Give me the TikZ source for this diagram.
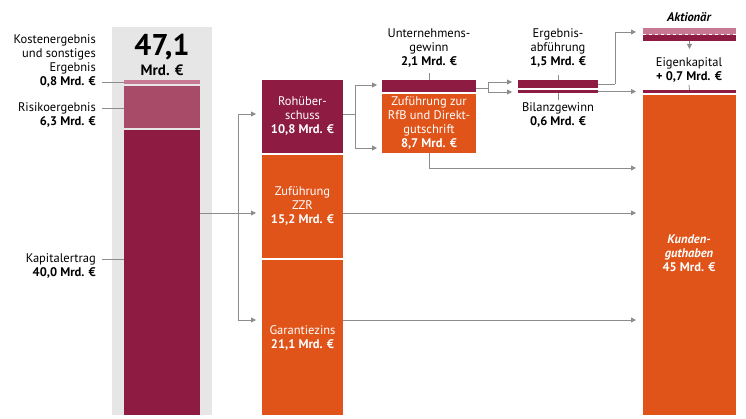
\documentclass[tikz,border=0pt]{standalone}
\usepackage{fontspec}
\setmainfont{PT Sans}
\usetikzlibrary{positioning}
\usetikzlibrary{arrows.meta}
\definecolor{weinrot}{HTML}{8E1B41}
\definecolor{mittelrot}{HTML}{A84B69}
\definecolor{hellrot}{HTML}{C77893}
\definecolor{orangerot}{HTML}{E0541A}
\definecolor{grau}{HTML}{E6E6E6}
\definecolor{liniengrau}{HTML}{8C8C8C}
\tikzset{
    block/.style={anchor=north west, inner sep=0pt, outer sep=0pt, draw=none},
    txt/.style={font=\fontsize{12.5}{14}\selectfont, align=center, inner sep=0pt},
    wtxt/.style={txt, text=white},
    ltxt/.style={txt, align=right, anchor=east},
    flow/.style={draw=liniengrau, line width=0.8pt, -{Triangle[length=5pt,width=5pt]}},
    tick/.style={draw=liniengrau, line width=0.8pt},
}
\begin{document}
\begin{tikzpicture}[x=1pt,y=-1pt]
    \useasboundingbox (0,0) rectangle (746,419);
    % Gesamtsaeule
    \fill[grau] (112,27) rectangle (212,415);
    \node[txt, font=\fontsize{30}{30}\bfseries] (summe) at (162,47) {47,1};
    \node[txt, font=\fontsize{15}{15}\bfseries] (summeeinh) at (162,70) {Mrd. €};
    \node[block, fill=hellrot, minimum width=76pt, minimum height=4pt] (kosten) at (124,80) {};
    \node[block, fill=mittelrot, minimum width=76pt, minimum height=42pt] (risiko) at (124,86) {};
    \node[block, fill=weinrot, minimum width=76pt, minimum height=285pt] (kapital) at (124,130) {};
    \node[ltxt] (kostenl) at (96,61) {Kostenergebnis\\und sonstiges\\Ergebnis\\\textbf{0,8 Mrd. €}};
    \node[ltxt] (risikol) at (96,115) {Risikoergebnis\\\textbf{6,3 Mrd. €}};
    \node[ltxt] (kapitall) at (96,266) {Kapitalertrag\\\textbf{40,0 Mrd. €}};
    \draw[tick] (102,82) -- (kosten.west);
    \draw[tick] (102,108) -- (124,108);
    \draw[tick] (102,259) -- (124,259);
    % Zweite Spalte
    \node[block, fill=weinrot, minimum width=81pt, minimum height=73pt] (roh) at (262,80) {};
    \node[block, fill=orangerot, minimum width=81pt, minimum height=103pt] (zzr) at (262,155) {};
    \node[block, fill=orangerot, minimum width=81pt, minimum height=155pt] (garantie) at (262,260) {};
    \node[wtxt] at (roh.center) {Rohüber-\\schuss\\\textbf{10,8 Mrd. €}};
    \node[wtxt] at (zzr.center) {Zuführung\\ZZR\\\textbf{15,2 Mrd. €}};
    \node[wtxt] at (garantie.center) {Garantiezins\\\textbf{21,1 Mrd. €}};
    \coordinate (verteil) at (238,213);
    \draw[tick] (200,213) -- (verteil);
    \draw[flow] (verteil) |- (256,114);
    \draw[flow] (verteil) -- (256,213);
    \draw[flow] (verteil) |- (256,320);
    % Dritte Spalte
    \node[block, fill=weinrot, minimum width=94pt, minimum height=12pt] (gewinn) at (382,80) {};
    \node[block, fill=orangerot, minimum width=94pt, minimum height=59pt] (rfb) at (382,94) {};
    \node[wtxt] at (rfb.center) {Zuführung zur\\RfB und Direkt-\\gutschrift\\\textbf{8,7 Mrd. €}};
    \node[txt] (gewinnl) at (429,48) {Unternehmens-\\gewinn\\\textbf{2,1 Mrd. €}};
    \draw[tick] (429,73) -- (gewinn.north);
    \coordinate (rohsplit) at (355,114);
    \draw[tick] (343,114) -- (rohsplit);
    \draw[flow] (rohsplit) |- (377,85);
    \draw[flow] (rohsplit) |- (377,148);
    % Vierte Spalte
    \node[block, fill=weinrot, minimum width=80pt, minimum height=8pt] (abfuehr) at (518,80) {};
    \node[block, fill=weinrot, minimum width=80pt, minimum height=3pt] (bilanz) at (518,90) {};
    \node[txt] (abfuehrl) at (558,48) {Ergebnis-\\abführung\\\textbf{1,5 Mrd. €}};
    \node[txt] (bilanzl) at (558,115) {Bilanzgewinn\\\textbf{0,6 Mrd. €}};
    \draw[tick] (558,75) -- (abfuehr.north);
    \draw[tick] (bilanz.south) -- (558,100);
    \coordinate (gewinnsplit) at (488,88);
    \draw[tick] (gewinn.east |- 0,88) -- (gewinnsplit);
    \draw[flow] (gewinnsplit) |- (512,82);
    \draw[flow] (gewinnsplit) |- (512,92);
    % Fuenfte Spalte
    \fill[hellrot] (643,28) rectangle (736,35);
    \node[block, fill=weinrot, minimum width=93pt, minimum height=6pt] (aktionaer) at (643,35) {};
    \draw[white, dashed, line width=0.7pt] (643,34.5) -- (736,34.5);
    \node[txt, font=\fontsize{12.5}{14}\bfseries\itshape] (aktionaerl) at (689,17) {Aktionär};
    \node[block, fill=weinrot, minimum width=93pt, minimum height=3pt] (eigen) at (643,90) {};
    \node[block, fill=orangerot, minimum width=93pt, minimum height=320pt] (kunden) at (643,95) {};
    \node[txt] (eigenl) at (689,70) {Eigenkapital\\\textbf{+ 0,7 Mrd. €}};
    \draw[tick] (689,85) -- (eigen.north);
    \draw[flow] (aktionaer.south) -- ++(0,8);
    \node[wtxt] at (689,253) {\textbf{\textit{Kunden-}}\\\textbf{\textit{guthaben}}\\\textbf{45 Mrd. €}};
    \coordinate (abfuehrknick) at (615,84);
    \draw[tick] (abfuehr.east |- 0,84) -- (abfuehrknick);
    \draw[flow] (abfuehrknick) |- (636,32);
    \draw[flow] (bilanz.east) -- (636,91.5);
    \draw[flow] (rfb.south) |- (636,168);
    \draw[flow] (zzr.east |- 0,213) -- (636,213);
    \draw[flow] (garantie.east |- 0,320) -- (636,320);
\end{tikzpicture}
\end{document}
